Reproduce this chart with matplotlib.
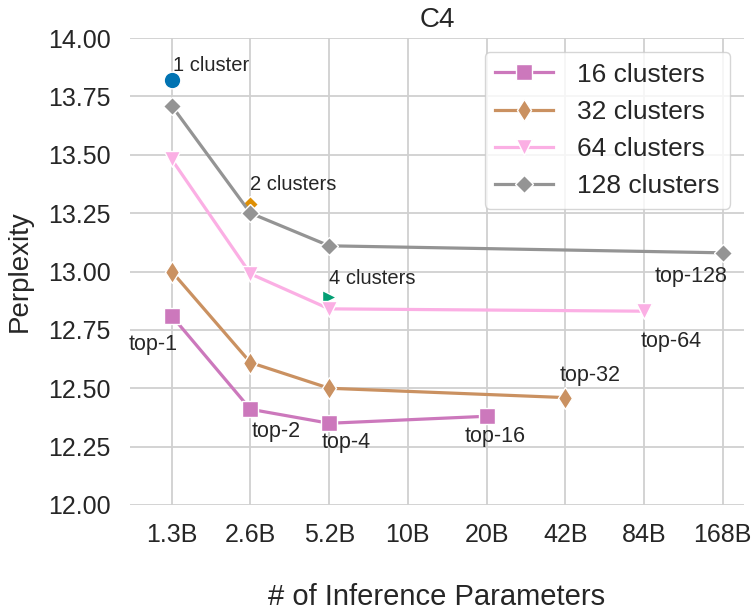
import matplotlib
matplotlib.use("Agg")
import matplotlib.pyplot as plt

# x positions are categorical slots for inference parameter counts
param_labels = ["1.3B", "2.6B", "5.2B", "10B", "20B", "42B", "84B", "168B"]

# Perplexity per cluster setting (x index -> value)
x16 = [0, 1, 2, 4]
y16 = [12.81, 12.41, 12.35, 12.38]
x32 = [0, 1, 2, 5]
y32 = [13.00, 12.61, 12.50, 12.46]
x64 = [0, 1, 2, 6]
y64 = [13.48, 12.99, 12.84, 12.83]
x128 = [0, 1, 2, 7]
y128 = [13.71, 13.25, 13.11, 13.08]

# Dense baselines
single_x = [0, 1, 2]
single_y = [13.82, 13.29, 12.89]
single_labels = ["1 cluster", "2 clusters", "4 clusters"]

top_labels = ["top-1", "top-2", "top-4", "top-16", "top-32", "top-64", "top-128"]

plt.rcParams["font.family"] = ["Liberation Sans", "DejaVu Sans"]

fig = plt.figure(figsize=(7.56, 6.13), dpi=100)
ax = fig.add_axes([130 / 756, 108 / 613, 614 / 756, 467 / 613])

ax.set_facecolor("white")
ax.grid(True, color="#d0d0d0", lw=1.3, zorder=0)
ax.set_axisbelow(True)
for s in ax.spines.values():
    s.set_visible(False)

# baseline markers (drawn beneath the cluster lines)
ax.plot(single_x[0], single_y[0], "o", color="#0173B2", ms=12, mec="white", mew=1, zorder=2)
ax.plot(single_x[1], single_y[1], "D", color="#DE8F05", ms=8.5, mec="white", mew=1, zorder=2)
ax.plot(single_x[2], single_y[2], ">", color="#029E73", ms=10.5, mec="white", mew=1, zorder=2)

lw = 2.3
l16, = ax.plot(x16, y16, "-s", color="#CC78BC", lw=lw, ms=12, mec="white", mew=1, zorder=3,
               label="16 clusters")
l32, = ax.plot(x32, y32, "-d", color="#CA9161", lw=lw, ms=11.5, mec="white", mew=1, zorder=3,
               label="32 clusters")
l64, = ax.plot(x64, y64, "-v", color="#FBAFE4", lw=lw, ms=11, mec="white", mew=1, zorder=3,
               label="64 clusters")
l128, = ax.plot(x128, y128, "-D", color="#949494", lw=lw, ms=9, mec="white", mew=1, zorder=3,
                label="128 clusters")

# baseline annotations
cl_offsets = [(1, 15), (0, 19), (0, 19)]
for xi, yi, txt, (dx, dy) in zip(single_x, single_y, single_labels, cl_offsets):
    ax.annotate(txt, (xi, yi), xytext=(dx, dy), textcoords="offset pixels",
                ha="left", va="center", fontsize=14.5, color="#262626", zorder=5)

# top-k annotations
top_pts = [(x16[0], y16[0]), (x16[1], y16[1]), (x16[2], y16[2]), (x16[3], y16[3]),
           (x32[3], y32[3]), (x64[3], y64[3]), (x128[3], y128[3])]
top_offsets = [(-19, -29), (26, -22), (17, -19), (9, -20), (25, 22), (27, -30), (-32, -24)]
for (xi, yi), txt, (dx, dy) in zip(top_pts, top_labels, top_offsets):
    ax.annotate(txt, (xi, yi), xytext=(dx, dy), textcoords="offset pixels",
                ha="center", va="center", fontsize=15.5, color="#262626", zorder=5)

ax.set_xlim(-0.53, 7.27)
ax.set_ylim(12.0, 14.0)
ax.set_xticks(range(len(param_labels)))
ax.set_xticklabels(param_labels)
ax.set_yticks([12.0, 12.25, 12.5, 12.75, 13.0, 13.25, 13.5, 13.75, 14.0])
ax.set_yticklabels([f"{v:.2f}" for v in ax.get_yticks()])
ax.tick_params(axis="both", length=0, labelsize=18, labelcolor="#262626")
ax.tick_params(axis="x", pad=13)
ax.tick_params(axis="y", pad=14)

ax.set_title("C4", fontsize=20, color="#262626", pad=8)
ax.set_xlabel("# of Inference Parameters", fontsize=21, color="#262626")
ax.set_ylabel("Perplexity", fontsize=20, color="#262626")
ax.xaxis.set_label_coords(0.5, -(597 - 505) / 467)
ax.yaxis.set_label_coords(-(110 / 614), 0.5)
ax.xaxis.label.set_va("center")
ax.yaxis.label.set_va("center")

leg = ax.legend(handles=[l16, l32, l64, l128], loc="upper right",
                bbox_to_anchor=(600 / 614, 453 / 467), borderaxespad=0,
                fontsize=19, frameon=True, fancybox=True, framealpha=0.8,
                edgecolor="#cccccc", handlelength=2.2, labelspacing=0.5,
                borderpad=0.4, handletextpad=0.9)
for t in leg.get_texts():
    t.set_color("#262626")

fig.savefig("out.png", dpi=100, facecolor="white")
